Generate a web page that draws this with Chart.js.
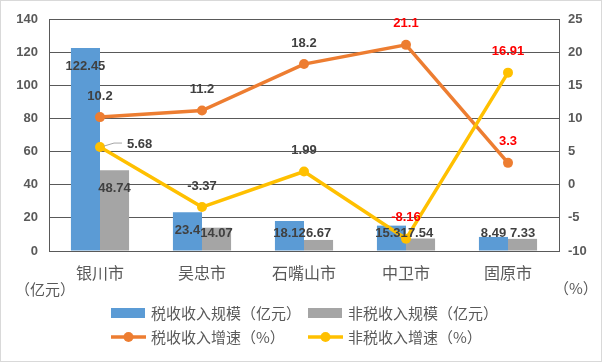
<!DOCTYPE html>
<html>
<head>
<meta charset="utf-8">
<script src="https://cdn.jsdelivr.net/npm/chart.js@4.4.1/dist/chart.umd.min.js"></script>
<style>
  html, body { margin: 0; padding: 0; background: #fff; }
  #wrap { width: 602px; height: 362px; }
</style>
</head>
<body>
<div id="wrap"><canvas id="c" width="602" height="362"></canvas></div>
<script>
// 数据
const cities = ['银川市', '吴忠市', '石嘴山市', '中卫市', '固原市'];
const taxScale = [122.45, 23.4, 18.12, 15.31, 8.49];
const nonTaxScale = [48.74, 14.07, 6.67, 7.54, 7.33];
const taxGrowth = [10.2, 11.2, 18.2, 21.1, 3.3];
const nonTaxGrowth = [5.68, -3.37, 1.99, -8.16, 16.91];
const leftTicks = [0, 20, 40, 60, 80, 100, 120, 140];
const rightTicks = [-10, -5, 0, 5, 10, 15, 20, 25];

const GRID = '#595959';
const TEXT = '#595959';
const LABEL = '#404040';
const RED = '#FF0000';
const NUM_FONT = 'bold 13px "Liberation Sans", Arial, sans-serif';
const CJK = '"Noto Sans CJK SC", "Noto Sans", sans-serif';

// 红色标签
const redLabels = { 2: [3, 4], 3: [3, 4] };

const labelPlugin = {
  id: 'labels',
  beforeDraw(chart) {
    const ctx = chart.ctx;
    ctx.save();
    ctx.fillStyle = '#fff';
    ctx.fillRect(0, 0, chart.width, chart.height);
    ctx.strokeStyle = '#d9d9d9';
    ctx.lineWidth = 1;
    ctx.strokeRect(0.5, 0.5, chart.width - 1, chart.height - 1);
    ctx.restore();
  },
  afterDatasetsDraw(chart) {
    const ctx = chart.ctx;
    const base = chart.scales.y.getPixelForValue(0);
    ctx.save();
    ctx.font = NUM_FONT;
    ctx.textBaseline = 'middle';
    chart.data.datasets.forEach((ds, di) => {
      const meta = chart.getDatasetMeta(di);
      meta.data.forEach((el, i) => {
        const v = ds.data[i];
        const red = (redLabels[di] || []).includes(i);
        ctx.fillStyle = red ? RED : LABEL;
        ctx.textAlign = 'center';
        if (ds.type === 'bar') {
          const y = Math.min(el.y + 18, base - 18);
          ctx.fillText(String(v), el.x, y);
        } else if (di === 3 && i === 0) {
          // 引导线
          ctx.strokeStyle = '#a6a6a6';
          ctx.lineWidth = 1;
          ctx.beginPath();
          ctx.moveTo(el.x + 4, el.y - 1);
          ctx.lineTo(el.x + 14, el.y - 4);
          ctx.lineTo(el.x + 22, el.y - 4);
          ctx.stroke();
          ctx.textAlign = 'left';
          ctx.fillText(String(v), el.x + 27, el.y - 3);
        } else {
          ctx.fillText(String(v), el.x, el.y - 21);
        }
      });
    });
    ctx.restore();
  },
  afterDraw(chart) {
    const ctx = chart.ctx;
    const ds = chart.data.datasets;
    ctx.save();
    ctx.font = '15px ' + CJK;
    ctx.fillStyle = TEXT;
    ctx.textBaseline = 'middle';
    // 轴标题
    ctx.textAlign = 'left';
    ctx.fillText('（亿元）', 15, 289);
    ctx.fillText('（%）', 554, 288);
    // 图例
    const items = [
      { d: ds[0], x: 111, y: 313 },
      { d: ds[1], x: 308, y: 313 },
      { d: ds[2], x: 111, y: 337 },
      { d: ds[3], x: 308, y: 337 }
    ];
    items.forEach(it => {
      if (it.d.type === 'bar') {
        ctx.fillStyle = it.d.backgroundColor;
        ctx.fillRect(it.x, it.y - 5, 34, 10);
      } else {
        ctx.strokeStyle = it.d.borderColor;
        ctx.lineWidth = 3.5;
        ctx.beginPath();
        ctx.moveTo(it.x, it.y);
        ctx.lineTo(it.x + 35, it.y);
        ctx.stroke();
        ctx.fillStyle = it.d.borderColor;
        ctx.beginPath();
        ctx.arc(it.x + 17.5, it.y, 5, 0, Math.PI * 2);
        ctx.fill();
      }
      ctx.fillStyle = TEXT;
      ctx.fillText(it.d.label, it.x + 40, it.y);
    });
    ctx.restore();
  }
};

new Chart(document.getElementById('c'), {
  data: {
    labels: cities,
    datasets: [
      { type: 'bar', label: '税收收入规模（亿元）', data: taxScale, backgroundColor: '#5B9BD5', yAxisID: 'y', order: 2, barPercentage: 1, categoryPercentage: 0.57 },
      { type: 'bar', label: '非税收入规模（亿元）', data: nonTaxScale, backgroundColor: '#A5A5A5', yAxisID: 'y', order: 3, barPercentage: 1, categoryPercentage: 0.57 },
      { type: 'line', label: '税收收入增速（%）', data: taxGrowth, borderColor: '#ED7D31', backgroundColor: '#ED7D31', borderWidth: 3.5, pointRadius: 5, pointBorderWidth: 0, yAxisID: 'y1', order: 1, tension: 0 },
      { type: 'line', label: '非税收入增速（%）', data: nonTaxGrowth, borderColor: '#FFC000', backgroundColor: '#FFC000', borderWidth: 3.5, pointRadius: 5, pointBorderWidth: 0, yAxisID: 'y1', order: 0, tension: 0 }
    ]
  },
  options: {
    responsive: false,
    animation: false,
    events: [],
    layout: { padding: { top: 19, left: 0, right: 0, bottom: 0 } },
    plugins: { legend: { display: false }, tooltip: { enabled: false } },
    scales: {
      x: {
        grid: { display: false },
        border: { display: true, color: GRID, width: 1 },
        ticks: { color: TEXT, font: { family: CJK, size: 16 }, padding: 4 },
        afterFit(s) { s.height = 111; }
      },
      y: {
        position: 'left',
        min: 0, max: 140,
        afterBuildTicks(s) { s.ticks = leftTicks.map(v => ({ value: v })); },
        grid: { color: GRID, lineWidth: 1, drawTicks: false },
        border: { display: true, color: GRID, width: 1 },
        ticks: { color: TEXT, font: { family: '"Liberation Sans", Arial, sans-serif', size: 13, weight: 'bold' }, padding: 11 },
        afterFit(s) { s.width = 49; }
      },
      y1: {
        position: 'right',
        min: -10, max: 25,
        afterBuildTicks(s) { s.ticks = rightTicks.map(v => ({ value: v })); },
        grid: { display: false, drawTicks: false },
        border: { display: true, color: GRID, width: 1 },
        ticks: { color: TEXT, font: { family: '"Liberation Sans", Arial, sans-serif', size: 13, weight: 'bold' }, padding: 9 },
        afterFit(s) { s.width = 43; }
      }
    }
  },
  plugins: [labelPlugin]
});
</script>
</body>
</html>
